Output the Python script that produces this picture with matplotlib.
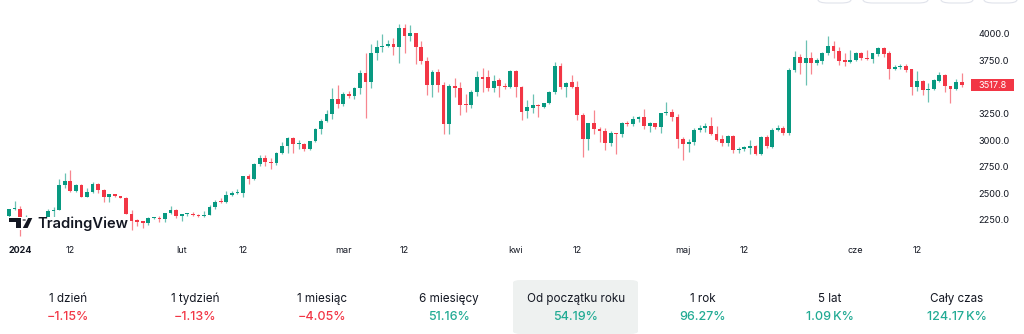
import numpy as np
import pandas as pd
import matplotlib
matplotlib.use("Agg")
import matplotlib.pyplot as plt
from matplotlib.patches import FancyBboxPatch, Rectangle, Polygon, Circle

plt.rcParams['font.family'] = ['Inter', 'DejaVu Sans']

# Dzienne świece od 2024-01-01
start_date = '2024-01-01'
opens = [2283, 2352, 2356, 2210, 2268, 2269, 2240, 2222, 2331, 2345,
         2580, 2618, 2520, 2575, 2470, 2510, 2585, 2528, 2468, 2490,
         2475, 2458, 2310, 2250, 2241, 2222, 2268, 2272, 2257, 2316,
         2344, 2283, 2305, 2310, 2298, 2290, 2300, 2373, 2422, 2418,
         2488, 2502, 2508, 2660, 2640, 2780, 2830, 2796, 2785, 2878,
         2945, 3020, 2965, 2968, 2920, 2990, 3110, 3180, 3245, 3385,
         3340, 3440, 3420, 3490, 3630, 3550, 3817, 3873, 3887, 3902,
         3873, 4061, 3977, 4005, 3873, 3742, 3517, 3639, 3517, 3151,
         3508, 3490, 3340, 3330, 3451, 3592, 3592, 3489, 3564, 3508,
         3498, 3648, 3498, 3273, 3302, 3330, 3311, 3348, 3451, 3695,
         3498, 3545, 3498, 3236, 3011, 3160, 3104, 3085, 2973, 3067,
         3057, 3160, 3151, 3198, 3217, 3132, 3160, 3123, 3254, 3264,
         3217, 3011, 2964, 2983, 3095, 3114, 3132, 3057, 3011, 2973,
         3039, 2907, 2915, 2930, 2945, 2870, 3029, 2935, 3095, 3114,
         3067, 3658, 3780, 3727, 3770, 3724, 3742, 3817, 3883, 3836,
         3752, 3733, 3752, 3817, 3778, 3761, 3808, 3864, 3817, 3667,
         3686, 3695, 3667, 3498, 3555, 3470, 3480, 3555, 3611, 3508,
         3480, 3545]
highs = [2352, 2430, 2386, 2295, 2278, 2275, 2260, 2358, 2370, 2640,
         2690, 2718, 2585, 2585, 2550, 2610, 2595, 2545, 2495, 2498,
         2480, 2462, 2345, 2255, 2245, 2280, 2280, 2290, 2320, 2385,
         2352, 2310, 2320, 2325, 2305, 2338, 2390, 2435, 2455, 2525,
         2520, 2540, 2665, 2686, 2785, 2865, 2858, 2830, 2890, 2985,
         3030, 3030, 3000, 2975, 2995, 3120, 3200, 3285, 3490, 3520,
         3450, 3460, 3500, 3660, 3825, 3910, 3940, 4000, 3945, 3960,
         4090, 4090, 4085, 4010, 3930, 3780, 3665, 3670, 3545, 3530,
         3590, 3545, 3440, 3470, 3650, 3676, 3660, 3611, 3583, 3540,
         3660, 3660, 3510, 3376, 3440, 3345, 3350, 3460, 3733, 3725,
         3550, 3611, 3555, 3260, 3165, 3282, 3123, 3114, 3090, 3070,
         3170, 3180, 3230, 3230, 3292, 3170, 3165, 3260, 3357, 3290,
         3250, 3030, 3010, 3120, 3145, 3165, 3217, 3130, 3050, 3045,
         3050, 2940, 2950, 3001, 2955, 3040, 3045, 3115, 3140, 3130,
         3676, 3836, 3810, 3945, 3826, 3770, 3830, 3977, 3930, 3880,
         3825, 3845, 3835, 3830, 3845, 3825, 3880, 3880, 3840, 3710,
         3720, 3715, 3675, 3648, 3565, 3535, 3580, 3639, 3625, 3515,
         3580, 3629]
lows = [2265, 2343, 2100, 2201, 2205, 2215, 2210, 2165, 2240, 2340,
        2555, 2510, 2510, 2465, 2462, 2500, 2505, 2420, 2420, 2465,
        2455, 2305, 2160, 2190, 2175, 2200, 2255, 2235, 2235, 2305,
        2265, 2240, 2288, 2290, 2275, 2278, 2295, 2350, 2410, 2410,
        2475, 2492, 2470, 2590, 2630, 2755, 2760, 2730, 2770, 2870,
        2880, 2880, 2920, 2900, 2910, 2980, 3060, 3170, 3200, 3300,
        3325, 3400, 3390, 3440, 3205, 3490, 3760, 3830, 3875, 3800,
        3725, 3820, 3935, 3720, 3715, 3430, 3405, 3450, 3060, 3057,
        3410, 3235, 3265, 3300, 3420, 3451, 3460, 3451, 3405, 3480,
        3490, 3405, 3189, 3210, 3254, 3217, 3300, 3340, 3440, 3480,
        3405, 3490, 3190, 2842, 2907, 3060, 2983, 2907, 2950, 2870,
        3030, 3130, 3135, 3170, 3110, 3080, 3110, 3067, 3240, 3180,
        2930, 2813, 2890, 2960, 3080, 3080, 3050, 2990, 2950, 2950,
        2880, 2880, 2900, 2870, 2862, 2860, 2930, 2925, 3085, 3045,
        3048, 3640, 3620, 3517, 3620, 3710, 3720, 3800, 3770, 3710,
        3700, 3725, 3745, 3755, 3758, 3730, 3795, 3780, 3573, 3660,
        3670, 3640, 3430, 3460, 3430, 3358, 3470, 3550, 3451, 3348,
        3470, 3505]
closes = [2352, 2356, 2210, 2268, 2269, 2240, 2222, 2331, 2345, 2580,
          2618, 2520, 2575, 2470, 2510, 2585, 2528, 2468, 2490, 2475,
          2458, 2310, 2240, 2235, 2222, 2268, 2272, 2257, 2316, 2344,
          2283, 2305, 2310, 2298, 2290, 2300, 2373, 2422, 2418, 2488,
          2502, 2508, 2660, 2640, 2780, 2830, 2796, 2785, 2878, 2945,
          3020, 2965, 2968, 2920, 2990, 3110, 3180, 3245, 3385, 3340,
          3440, 3420, 3490, 3630, 3550, 3817, 3873, 3887, 3902, 3873,
          4061, 3977, 4005, 3873, 3742, 3517, 3639, 3517, 3151, 3508,
          3490, 3330, 3330, 3451, 3592, 3573, 3489, 3555, 3508, 3498,
          3648, 3498, 3264, 3311, 3330, 3318, 3348, 3451, 3695, 3498,
          3536, 3498, 3236, 3011, 3160, 3104, 3085, 2973, 3067, 3057,
          3160, 3151, 3198, 3217, 3132, 3160, 3129, 3254, 3264, 3217,
          3011, 2964, 2983, 3095, 3114, 3132, 3057, 3001, 2973, 3039,
          2907, 2915, 2935, 2945, 2870, 3029, 2945, 3095, 3114, 3067,
          3658, 3780, 3727, 3770, 3724, 3752, 3817, 3883, 3836, 3742,
          3733, 3752, 3817, 3770, 3761, 3817, 3864, 3808, 3667, 3686,
          3695, 3658, 3498, 3555, 3470, 3480, 3564, 3611, 3508, 3480,
          3545, 3517.8]

# Oś czasu
tick_dates = ['2024-01-01', '2024-01-12', '2024-02-01', '2024-02-12', '2024-03-01',
              '2024-03-12', '2024-04-01', '2024-04-12', '2024-05-01', '2024-05-12',
              '2024-06-01', '2024-06-12']
tick_labels = ['2024', '12', 'lut', '12', 'mar', '12', 'kwi', '12', 'maj', '12', 'cze', '12']
price_ticks = [2250, 2500, 2750, 3000, 3250, 3750, 4000]

# Zmiany w okresach
period_names = ['1 dzień', '1 tydzień', '1 miesiąc', '6 miesięcy',
                'Od początku roku', '1 rok', '5 lat', 'Cały czas']
period_values = ['\u22121.15%', '\u22121.13%', '\u22124.05%', '51.16%',
                 '54.19%', '96.27%', '1.09\u2009K%', '124.17\u2009K%']
period_up = [False, False, False, True, True, True, True, True]
selected_period = 4

GREEN = '#089981'
RED = '#f23645'
TXT = '#131722'

W, H = 1024, 334
fig = plt.figure(figsize=(W / 100, H / 100), dpi=100)
fig.patch.set_facecolor('white')


def fx(px):
    return px / W


def fy(py):
    return 1 - py / H


# Obszar wykresu (w pikselach od lewego górnego rogu)
ax_left, ax_right, ax_top, ax_bottom = 0, 968, 0, 240
ax = fig.add_axes([fx(ax_left), fy(ax_bottom), fx(ax_right - ax_left), (ax_bottom - ax_top) / H])
ax.set_facecolor('none')
for s in ax.spines.values():
    s.set_visible(False)

o = np.array(opens, dtype=float)
h = np.array(highs, dtype=float)
l = np.array(lows, dtype=float)
c = np.array(closes, dtype=float)
x = np.arange(len(c))
up = c >= o
colors = np.where(up, GREEN, RED)

# knoty, potem korpusy
ax.vlines(x, l, h, colors=colors, linewidth=0.9, alpha=0.6, zorder=1)
body_lo = np.minimum(o, c)
body_h = np.maximum(np.abs(c - o), 9)
ax.bar(x, body_h, bottom=body_lo, width=0.68, color=colors, linewidth=0, zorder=2)

# skale: 4000 -> 34 px, 250 = 26.57 px
px_per_unit = 26.57 / 250
y_top = 4000 + (34 - ax_top) / px_per_unit
y_bot = 4000 - (ax_bottom - 34) / px_per_unit
ax.set_ylim(y_bot, y_top)
day_px = 5.571
ax.set_xlim((ax_left - 9) / day_px, (ax_right - 9) / day_px)

t0 = pd.Timestamp(start_date)
tick_pos = [(pd.Timestamp(d) - t0).days for d in tick_dates]
ax.set_xticks(tick_pos)
ax.set_xticklabels(tick_labels)
ax.tick_params(axis='x', length=0, pad=4, labelsize=6.5, labelcolor=TXT)
first = ax.get_xticklabels()[0]
first.set_fontweight('bold')
first.set_horizontalalignment('left')

ax.yaxis.tick_right()
ax.set_yticks(price_ticks)
ax.set_yticklabels([f'{p:.1f}' for p in price_ticks])
ax.tick_params(axis='y', length=0, pad=7.5, labelsize=6.6, labelcolor=TXT)

# etykieta ostatniej ceny
fig.canvas.draw()
last_y_disp = ax.transData.transform((0, c[-1]))[1]
last_y = H - last_y_disp
fig.patches.append(Rectangle((fx(971), fy(last_y + 6)), fx(43), 12 / H,
                             transform=fig.transFigure, facecolor=RED, edgecolor='none'))
fig.text(fx(992.5), fy(last_y), f'{c[-1]:.1f}', ha='center', va='center',
         color='white', fontsize=6.6)

# przyciski u góry (ucięte)
for x0, x1 in [(818, 851), (863, 928), (941, 973), (984, 1017)]:
    fig.patches.append(FancyBboxPatch((fx(x0), fy(3)), fx(x1 - x0), 20 / H,
                                      boxstyle='round,pad=0,rounding_size=0.01',
                                      transform=fig.transFigure, facecolor='white',
                                      edgecolor='#e0e3eb', linewidth=0.8))

# logo TradingView na białym tle
logo_color = '#131722'
fig.patches.append(Rectangle((fx(7), fy(230)), fx(121), 13.5 / H, transform=fig.transFigure,
                             facecolor='white', edgecolor='none', zorder=4))
fig.patches.append(Polygon([(fx(9), fy(218)), (fx(21), fy(218)), (fx(21), fy(228)),
                            (fx(15.8), fy(228)), (fx(15.8), fy(221.6)), (fx(9), fy(221.6))],
                           closed=True, transform=fig.transFigure, facecolor=logo_color,
                           edgecolor='none', zorder=5))
fig.patches.append(Circle((fx(24.2), fy(220)), 1.8 / W, transform=fig.transFigure,
                          facecolor=logo_color, edgecolor='none', zorder=5))
fig.patches.append(Polygon([(fx(22.8), fy(228)), (fx(27.6), fy(228)), (fx(32.3), fy(218)),
                            (fx(28.2), fy(218))], closed=True, transform=fig.transFigure,
                           facecolor=logo_color, edgecolor='none', zorder=5))
fig.text(fx(37), fy(223.5), 'TradingView', ha='left', va='center', fontsize=10.6,
         fontweight='semibold', color=logo_color, zorder=5)

# tabela zmian
col_w = 127
col_x0 = 4.5
fig.patches.append(FancyBboxPatch((fx(513), fy(334)), fx(125), 54 / H,
                                  boxstyle='round,pad=0,rounding_size=0.008',
                                  transform=fig.transFigure, facecolor='#eef1f0',
                                  edgecolor='none'))
for i, (name, val, is_up) in enumerate(zip(period_names, period_values, period_up)):
    cx = col_x0 + col_w * i + col_w / 2
    fig.text(fx(cx), fy(299), name, ha='center', va='center', fontsize=8.4, color=TXT)
    fig.text(fx(cx), fy(317.5), val, ha='center', va='center', fontsize=9,
             color='#22ab94' if is_up else RED, fontweight='medium')

fig.savefig('out.png', dpi=100, facecolor='white')
